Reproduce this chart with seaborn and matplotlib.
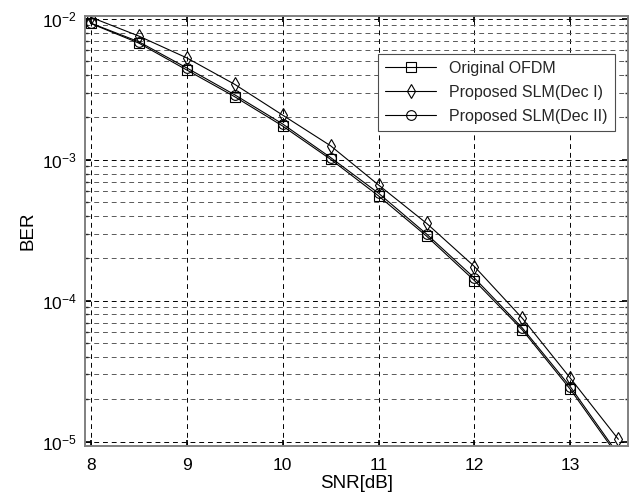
import numpy as np
import pandas as pd
import matplotlib
matplotlib.use("Agg")
import matplotlib.pyplot as plt
import seaborn as sns
from matplotlib.ticker import LogLocator, NullFormatter, FixedLocator

snr = [8.0, 8.5, 9.0, 9.5, 10.0, 10.5, 11.0, 11.5, 12.0, 12.5, 13.0, 13.5]
ber_original = [9.3e-3, 6.75e-3, 4.35e-3, 2.81e-3, 1.74e-3, 1.01e-3, 5.55e-4, 2.88e-4, 1.39e-4, 6.2e-5, 2.35e-5, 7.8e-6]
ber_dec1 = [1.03e-2, 7.57e-3, 5.3e-3, 3.44e-3, 2.08e-3, 1.26e-3, 6.64e-4, 3.55e-4, 1.75e-4, 7.5e-5, 2.82e-5, 1.04e-5]
ber_dec2 = [9.35e-3, 6.9e-3, 4.5e-3, 2.9e-3, 1.8e-3, 1.04e-3, 5.8e-4, 2.98e-4, 1.45e-4, 6.4e-5, 2.45e-5, 8.1e-6]
series_names = ["Original OFDM", "Proposed SLM(Dec I)", "Proposed SLM(Dec II)"]
series_markers = ["s", "d", "o"]
x_ticks = [8, 9, 10, 11, 12, 13]

sns.set_theme(style="white")
plt.rcParams['font.family'] = ['Liberation Sans', 'DejaVu Sans']

fig = plt.figure(figsize=(6.36, 4.97), dpi=100)
ax = fig.add_axes([0.1336, 0.1032, 0.8538, 0.8646])

for name, vals, mk in zip(series_names, [ber_original, ber_dec1, ber_dec2], series_markers):
    df = pd.DataFrame({"SNR": snr, "BER": vals})
    sns.lineplot(data=df, x="SNR", y="BER", ax=ax, color="black", linewidth=0.8,
                 marker=mk, markersize=7, markerfacecolor="none",
                 markeredgecolor="black", markeredgewidth=0.8, label=name)

ax.set_yscale("log")
ax.set_xlim(7.94, 13.6)
ax.set_ylim(9.37e-6, 1.05e-2)
ax.xaxis.set_major_locator(FixedLocator(x_ticks))
ax.yaxis.set_major_locator(LogLocator(base=10, numticks=10))
ax.yaxis.set_minor_locator(LogLocator(base=10, subs=np.arange(2, 10), numticks=20))
ax.yaxis.set_minor_formatter(NullFormatter())

ax.grid(True, which="major", axis="both", color="black", linestyle=(0, (5, 4)), linewidth=0.7)
ax.grid(True, which="minor", axis="y", color="0.35", linestyle=(0, (5, 4)), linewidth=0.7)

for s in ax.spines.values():
    s.set_color("0.5")
    s.set_linewidth(1.4)

ax.tick_params(axis="both", which="major", direction="in", length=4, labelsize=12.5,
               colors="black", left=True, bottom=True, top=True, right=True)
ax.tick_params(axis="x", which="major", pad=9)
ax.tick_params(axis="y", which="major", pad=6)
ax.tick_params(axis="y", which="minor", direction="in", length=2, left=True, right=True)

ax.set_xlabel("SNR[dB]", fontsize=13.5, color="black", labelpad=1)
ax.set_ylabel("BER", fontsize=13.5, color="black", labelpad=4)

leg = ax.legend(loc="upper right", bbox_to_anchor=(0.976, 0.912), borderaxespad=0,
                fontsize=11.5, frameon=True, fancybox=False, framealpha=1, edgecolor="0.3",
                handlelength=3.2, borderpad=0.45, labelspacing=0.55)
leg.get_frame().set_linewidth(0.8)

fig.savefig("out.png", dpi=100)
